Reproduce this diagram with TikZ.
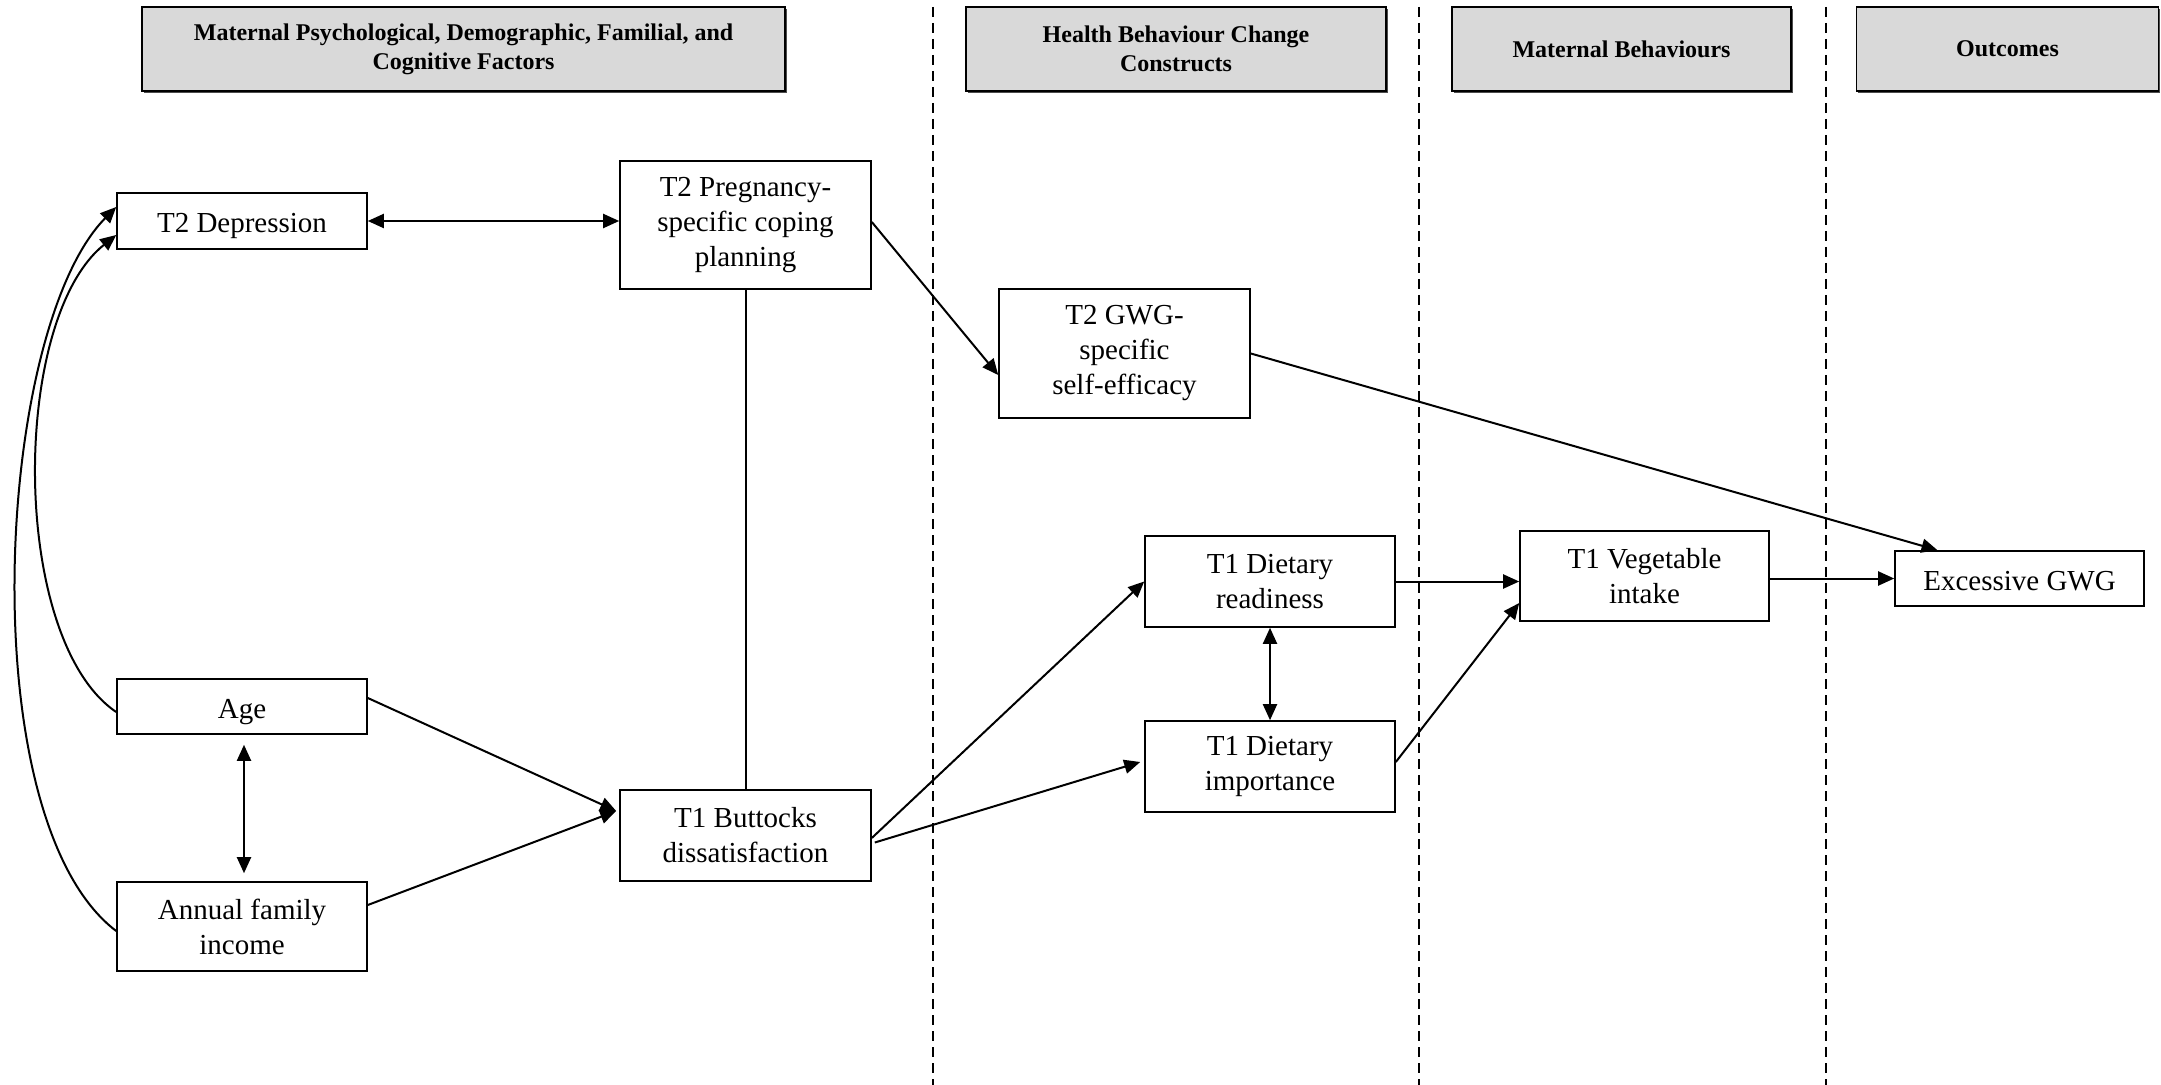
\documentclass[tikz,border=0pt]{standalone}
\usepackage{fontspec}
\setmainfont{Liberation Serif}
\usetikzlibrary{arrows.meta,calc,shadows}
\begin{document}
\begin{tikzpicture}[x=0.5pt,y=-0.5pt,
  box/.style={draw, line width=0.8pt, align=center, inner sep=2pt,
    font=\fontsize{14.5}{17.5}\selectfont},
  oneline/.style={text height=12.5pt, text depth=1pt},
  hdr/.style={draw, line width=0.8pt, fill=black!15, align=center, inner sep=2pt,
    font=\bfseries\fontsize{12}{14.5}\selectfont, minimum height=42pt,
    drop shadow={shadow xshift=0.8pt, shadow yshift=-0.8pt, fill=black!70, opacity=1}},
  conn/.style={line width=1pt, -{Triangle[length=8pt,width=7pt]}},
  biconn/.style={line width=1pt, {Triangle[length=8pt,width=7pt]}-{Triangle[length=8pt,width=7pt]}},
  plainconn/.style={line width=1pt},
  divider/.style={line width=0.6pt, dash pattern=on 5pt off 3pt}]
\useasboundingbox (0,0) rectangle (2161,1085);

% dividers
\draw[divider] (933,7) -- (933,1085);
\draw[divider] (1419,7) -- (1419,1085);
\draw[divider] (1826,7) -- (1826,1085);

% headers
\node[hdr, minimum width=321.5pt] (h1) at (463.5,49) {Maternal Psychological, Demographic, Familial, and\\Cognitive Factors};
\node[hdr, minimum width=210pt] (h2) at (1176,49) {Health Behaviour Change\\Constructs};
\node[hdr, minimum width=169.5pt] (h3) at (1621.5,49) {Maternal Behaviours};
\node[hdr, minimum width=151pt] (h4) at (2007.5,49) {Outcomes};

% nodes
\node[box, oneline, minimum width=125pt, minimum height=28pt] (dep) at (242,221) {T2 Depression};
\node[box, minimum width=125.5pt, minimum height=64pt] (cop) at (745.5,225) {T2 Pregnancy-\\specific coping\\planning};
\node[box, minimum width=125.5pt, minimum height=64.5pt] (se) at (1124.5,353.5) {T2 GWG-\\specific\\self-efficacy};
\node[box, minimum width=125pt, minimum height=45.5pt] (read) at (1270,581.5) {T1 Dietary\\readiness};
\node[box, minimum width=125pt, minimum height=45.5pt] (imp) at (1270,766.5) {T1 Dietary\\importance};
\node[box, minimum width=124.5pt, minimum height=45pt] (veg) at (1644.5,576) {T1 Vegetable\\intake};
\node[box, oneline, minimum width=124.5pt, minimum height=27.5pt] (exc) at (2019.5,578.5) {Excessive GWG};
\node[box, oneline, minimum width=125pt, minimum height=27.5pt] (age) at (242,706.5) {Age};
\node[box, minimum width=125pt, minimum height=44.5pt] (inc) at (242,926.5) {Annual family\\income};
\node[box, minimum width=125.5pt, minimum height=45.5pt] (but) at (745.5,835.5) {T1 Buttocks\\dissatisfaction};

\coordinate (bIn) at ($(but.west)+(-3,-24.5)$);

% connectors
\draw[biconn] (dep.east) -- (dep.east -| cop.west);
\draw[plainconn] (cop.south) -- (but.north);
\draw[conn] ($(cop.east)+(0,-3)$) -- ($(se.west)+(0,21.5)$);
\draw[conn] (se.east) -- ($(exc.north)+(-82,0)$);
\draw[conn] ($(age.east)+(0,-8.5)$) -- (bIn);
\draw[conn] ($(inc.east)+(0,-21.5)$) -- (bIn);
\draw[biconn, shorten <=5pt, shorten >=4pt] ($(age.south)+(2,0)$) -- ($(inc.north)+(2,0)$);
\draw[conn] ($(inc.west)+(0,4.5)$) .. controls (-30,820) and (-5,330) .. ($(dep.west)+(0,-14)$);
\draw[conn] ($(age.west)+(0,5.5)$) .. controls (10,640) and (10,320) .. ($(dep.west)+(0,14)$);
\draw[conn] ($(but.east)+(0,2.5)$) -- (read.west);
\draw[conn] ($(but.east)+(3,7)$) -- ($(imp.west)+(-4,-4.5)$);
\draw[biconn] (read.south) -- (imp.north);
\draw[conn] (read.east) -- (read.east -| veg.west);
\draw[conn] ($(imp.east)+(0,-4.5)$) -- ($(veg.west)+(0,27)$);
\draw[conn] (veg.east |- exc.west) -- (exc.west);
\end{tikzpicture}
\end{document}
